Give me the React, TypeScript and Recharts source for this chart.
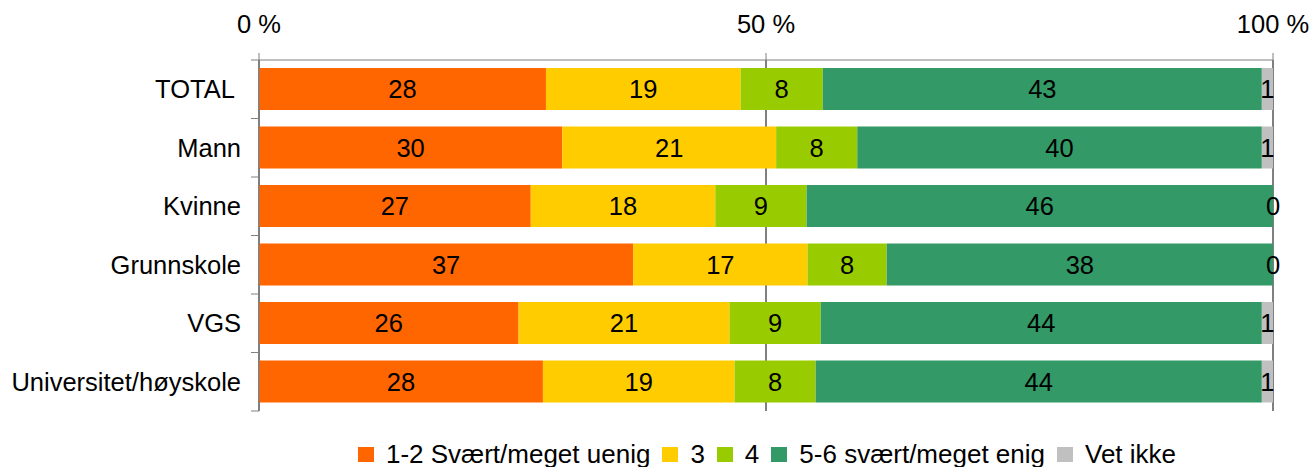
import { BarChart, Bar, XAxis, YAxis, CartesianGrid, Legend, LabelList } from "recharts";

const CATEGORIES = ["TOTAL ", "Mann", "Kvinne", "Grunnskole", "VGS", "Universitet/høyskole"];
const DISAGREE = [28.3, 29.9, 26.8, 36.9, 25.6, 28.0];
const THREE = [19.2, 21.1, 18.2, 17.2, 20.8, 18.9];
const FOUR = [8.1, 8.0, 9.0, 7.8, 9.0, 8.0];
const AGREE = [43.3, 39.9, 46.0, 38.1, 43.5, 44.0];
const DONT_KNOW = [1.1, 1.1, 0, 0, 1.1, 1.1];
const X_TICKS = [0, 50, 100];

const SERIES = [
  { key: "disagree", name: "1-2 Svært/meget uenig", color: "#FF6600" },
  { key: "three", name: "3", color: "#FFCC00" },
  { key: "four", name: "4", color: "#99CC00" },
  { key: "agree", name: "5-6 svært/meget enig", color: "#339966" },
  { key: "dontKnow", name: "Vet ikke", color: "#C0C0C0" },
];

const data = CATEGORIES.map((name, i) => ({
  name,
  disagree: DISAGREE[i],
  three: THREE[i],
  four: FOUR[i],
  agree: AGREE[i],
  dontKnow: DONT_KNOW[i],
}));

const WIDTH = 1315;
const HEIGHT = 467;
const AXIS_X = 259;
const PLOT_TOP = 60;
const PLOT_BOTTOM = 411;
const BAND = (PLOT_BOTTOM - PLOT_TOP) / CATEGORIES.length;
const FONT = "'Liberation Sans', Arial, sans-serif";
const FONT_SIZE = 25.5;
const AXIS_GREY = "#808080";

function CategoryTick(props: any) {
  const { y, payload, index, visibleTicksCount } = props;
  const half = BAND / 2;
  return (
    <g>
      <text
        x={AXIS_X - 18}
        y={y}
        textAnchor="end"
        dominantBaseline="central"
        fontSize={FONT_SIZE}
        fill="#000"
        style={{ whiteSpace: "pre" }}
      >
        {payload.value}
      </text>
      <line x1={AXIS_X - 8} x2={AXIS_X} y1={y - half} y2={y - half} stroke={AXIS_GREY} />
      {index === visibleTicksCount - 1 && (
        <line x1={AXIS_X - 8} x2={AXIS_X} y1={y + half} y2={y + half} stroke={AXIS_GREY} />
      )}
    </g>
  );
}

function ValueLabel(props: any) {
  const { x, y, width, height, value } = props;
  if (value == null) return null;
  return (
    <text
      x={Number(x) + Number(width) / 2}
      y={Number(y) + Number(height) / 2}
      textAnchor="middle"
      dominantBaseline="central"
      fontSize={FONT_SIZE}
      fill="#000"
    >
      {String(Math.round(Number(value)))}
    </text>
  );
}

// Recharts drops zero-width segments, so the "Vet ikke" = 0 labels are drawn
// at the end of the segment before it
function ZeroDontKnowLabel(props: any) {
  const { x, y, width, height, index } = props;
  const v = DONT_KNOW[index];
  if (v == null || Math.round(v) !== 0) return null;
  return (
    <text
      x={Number(x) + Number(width)}
      y={Number(y) + Number(height) / 2}
      textAnchor="middle"
      dominantBaseline="central"
      fontSize={FONT_SIZE}
      fill="#000"
    >
      {String(Math.round(v))}
    </text>
  );
}

function LegendContent() {
  return (
    <div
      style={{
        height: HEIGHT - PLOT_BOTTOM,
        boxSizing: "border-box",
        paddingTop: 30,
        paddingLeft: AXIS_X + 2,
        display: "flex",
        justifyContent: "center",
        fontFamily: FONT,
        fontSize: 26,
        lineHeight: "26px",
        color: "#000",
      }}
    >
      {SERIES.map((s, i) => (
        <span
          key={s.key}
          style={{ display: "flex", alignItems: "center", marginRight: i === SERIES.length - 1 ? 0 : 12 }}
        >
          <span style={{ width: 16, height: 15, background: s.color, marginRight: 12 }} />
          <span style={{ whiteSpace: "nowrap" }}>{s.name}</span>
        </span>
      ))}
    </div>
  );
}

export default function App() {
  return (
    <div style={{ position: "absolute", left: 0, top: 0, background: "#fff" }}>
      <BarChart
        width={WIDTH}
        height={HEIGHT}
        data={data}
        layout="vertical"
        margin={{ top: 0, right: WIDTH - 1273, bottom: 0, left: 0 }}
        style={{ fontFamily: FONT }}
      >
        <CartesianGrid horizontal={false} stroke="#000" />
        <XAxis
          type="number"
          orientation="top"
          domain={[0, 100]}
          ticks={X_TICKS}
          height={PLOT_TOP}
          tickFormatter={(v) => `${v} %`}
          axisLine={{ stroke: AXIS_GREY }}
          tickLine={{ stroke: AXIS_GREY }}
          tickSize={7}
          tickMargin={20}
          tick={{ fill: "#000", fontSize: FONT_SIZE }}
        />
        <YAxis
          type="category"
          dataKey="name"
          width={AXIS_X}
          interval={0}
          axisLine={{ stroke: AXIS_GREY }}
          tickLine={false}
          tick={<CategoryTick />}
        />
        <Legend verticalAlign="bottom" content={<LegendContent />} />
        {SERIES.map((s) => (
          <Bar key={s.key} dataKey={s.key} name={s.name} stackId="a" fill={s.color} barSize={42} isAnimationActive={false}>
            <LabelList dataKey={s.key} content={<ValueLabel />} />
            {s.key === "agree" && <LabelList dataKey={s.key} content={<ZeroDontKnowLabel />} />}
          </Bar>
        ))}
      </BarChart>
    </div>
  );
}
